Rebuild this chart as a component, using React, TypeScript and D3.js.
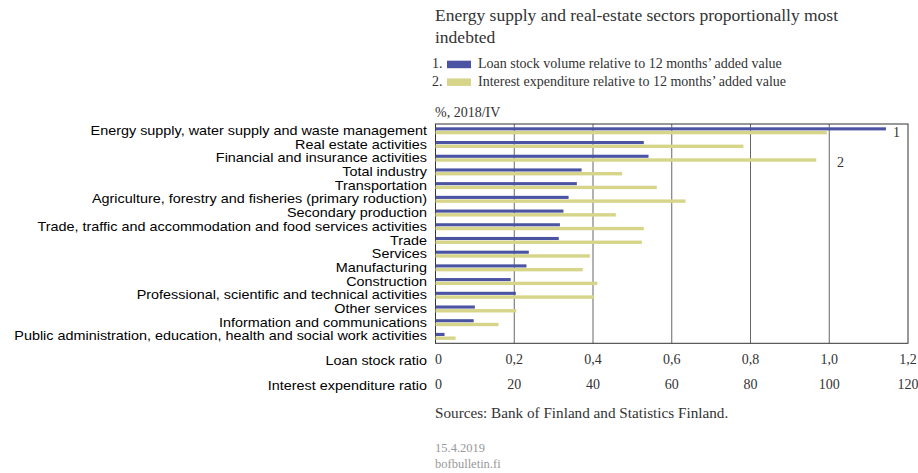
import React from "react";
import * as d3 from "d3";

const categories = [
  "Energy supply, water supply and waste management",
  "Real estate activities",
  "Financial and insurance activities",
  "Total industry",
  "Transportation",
  "Agriculture, forestry and fisheries (primary roduction)",
  "Secondary production",
  "Trade, traffic and accommodation and food services activities",
  "Trade",
  "Services",
  "Manufacturing",
  "Construction",
  "Professional, scientific and technical activities",
  "Other services",
  "Information and communications",
  "Public administration, education, health and social work activities",
];

const loanStock = [1.144, 0.529, 0.541, 0.371, 0.359, 0.338, 0.325, 0.316, 0.313, 0.237, 0.231, 0.191, 0.204, 0.1, 0.097, 0.023];
const interestExp = [99.4, 78.2, 96.7, 47.4, 56.2, 63.5, 45.8, 52.9, 52.4, 39.2, 37.4, 41.1, 40.2, 20.5, 16.0, 5.1];

const loanTicks = [0, 0.2, 0.4, 0.6, 0.8, 1.0, 1.2];
const interestTicks = [0, 20, 40, 60, 80, 100, 120];

const titleLines = ["Energy supply and real-estate sectors proportionally most", "indebted"];
const legendItems = [
  "Loan stock volume relative to 12 months\u2019 added value",
  "Interest expenditure relative to 12 months\u2019 added value",
];

const BLUE = "#4b53a3";
const YELLOW = "#d6d589";
const SERIF = "'Liberation Serif', 'Times New Roman', serif";
const SANS = "'Liberation Sans', Arial, sans-serif";

function SansLabel({ x, y, children }: { x: number; y: number; children: React.ReactNode }) {
  return (
    <text transform={`translate(${x},${y}) scale(1,0.9)`} textAnchor="end" fontFamily={SANS} fontSize={14.4} fill="#000">
      {children}
    </text>
  );
}

export default function App() {
  const W = 918, H = 473;
  const left = 435.5, right = 908, top = 124, bottom = 343.3;
  const xLoan = d3.scaleLinear().domain([0, 1.2]).range([left, right]);
  const xInt = d3.scaleLinear().domain([0, 120]).range([left, right]);
  const y = d3.scaleBand<string>().domain(categories).range([top, bottom]);
  const bw = y.bandwidth();
  const fmt = (v: number) => (v === 0 ? "0" : d3.format(".1f")(v).replace(".", ","));

  return (
    <svg width={W} height={H} style={{ position: "absolute", left: 0, top: 0, background: "#fff" }}>
      {titleLines.map((t, i) => (
        <text key={t} x={435} y={21 + i * 21.5} fontFamily={SERIF} fontSize={17.5} fill="#333">{t}</text>
      ))}
      {legendItems.map((t, i) => (
        <g key={t} transform={`translate(0,${i * 17.7})`}>
          <text x={432} y={68.3} fontFamily={SERIF} fontSize={14} fill="#333">{`${i + 1}.`}</text>
          <rect x={447} y={60.7} width={24} height={7.5} fill={i === 0 ? BLUE : YELLOW} />
          <text x={478} y={68.3} fontFamily={SERIF} fontSize={14} fill="#333">{t}</text>
        </g>
      ))}
      <text x={435} y={116.5} fontFamily={SERIF} fontSize={14} fill="#333">%, 2018/IV</text>

      {loanTicks.slice(1, -1).map((t) => (
        <line key={t} x1={xLoan(t)} x2={xLoan(t)} y1={top} y2={bottom} stroke="#666" strokeWidth={1} />
      ))}
      <rect x={left} y={top} width={right - left} height={bottom - top} fill="none" stroke="#333" strokeWidth={1} />

      {categories.map((c, i) => (
        <g key={c}>
          <rect x={left} y={(y(c) as number) + 3.3} width={xLoan(loanStock[i]) - left} height={3.1} fill={BLUE} />
          <rect x={left} y={(y(c) as number) + 6.9} width={xInt(interestExp[i]) - left} height={3.4} fill={YELLOW} />
          <SansLabel x={427} y={(y(c) as number) + bw / 2 + 4}>{c}</SansLabel>
        </g>
      ))}

      <text x={893} y={137} fontFamily={SERIF} fontSize={14} fill="#333">1</text>
      <text x={837} y={166.5} fontFamily={SERIF} fontSize={14} fill="#333">2</text>

      <SansLabel x={427} y={364.5}>Loan stock ratio</SansLabel>
      <SansLabel x={427} y={389.5}>Interest expenditure ratio</SansLabel>
      {loanTicks.map((t) => (
        <text key={t} x={xLoan(t) + (t === 0 ? 3 : 0)} y={364} textAnchor="middle" fontFamily={SERIF} fontSize={14} fill="#333">{fmt(t)}</text>
      ))}
      {interestTicks.map((t) => (
        <text key={t} x={xInt(t) + (t === 0 ? 3 : 0)} y={389} textAnchor="middle" fontFamily={SERIF} fontSize={14} fill="#333">{t}</text>
      ))}

      <text x={435} y={418} fontFamily={SERIF} fontSize={15.2} fill="#333">Sources: Bank of Finland and Statistics Finland.</text>
      <text x={435} y={452} fontFamily={SERIF} fontSize={12.5} fill="#999">15.4.2019</text>
      <text x={435} y={468} fontFamily={SERIF} fontSize={12.5} fill="#999">bofbulletin.fi</text>
    </svg>
  );
}
